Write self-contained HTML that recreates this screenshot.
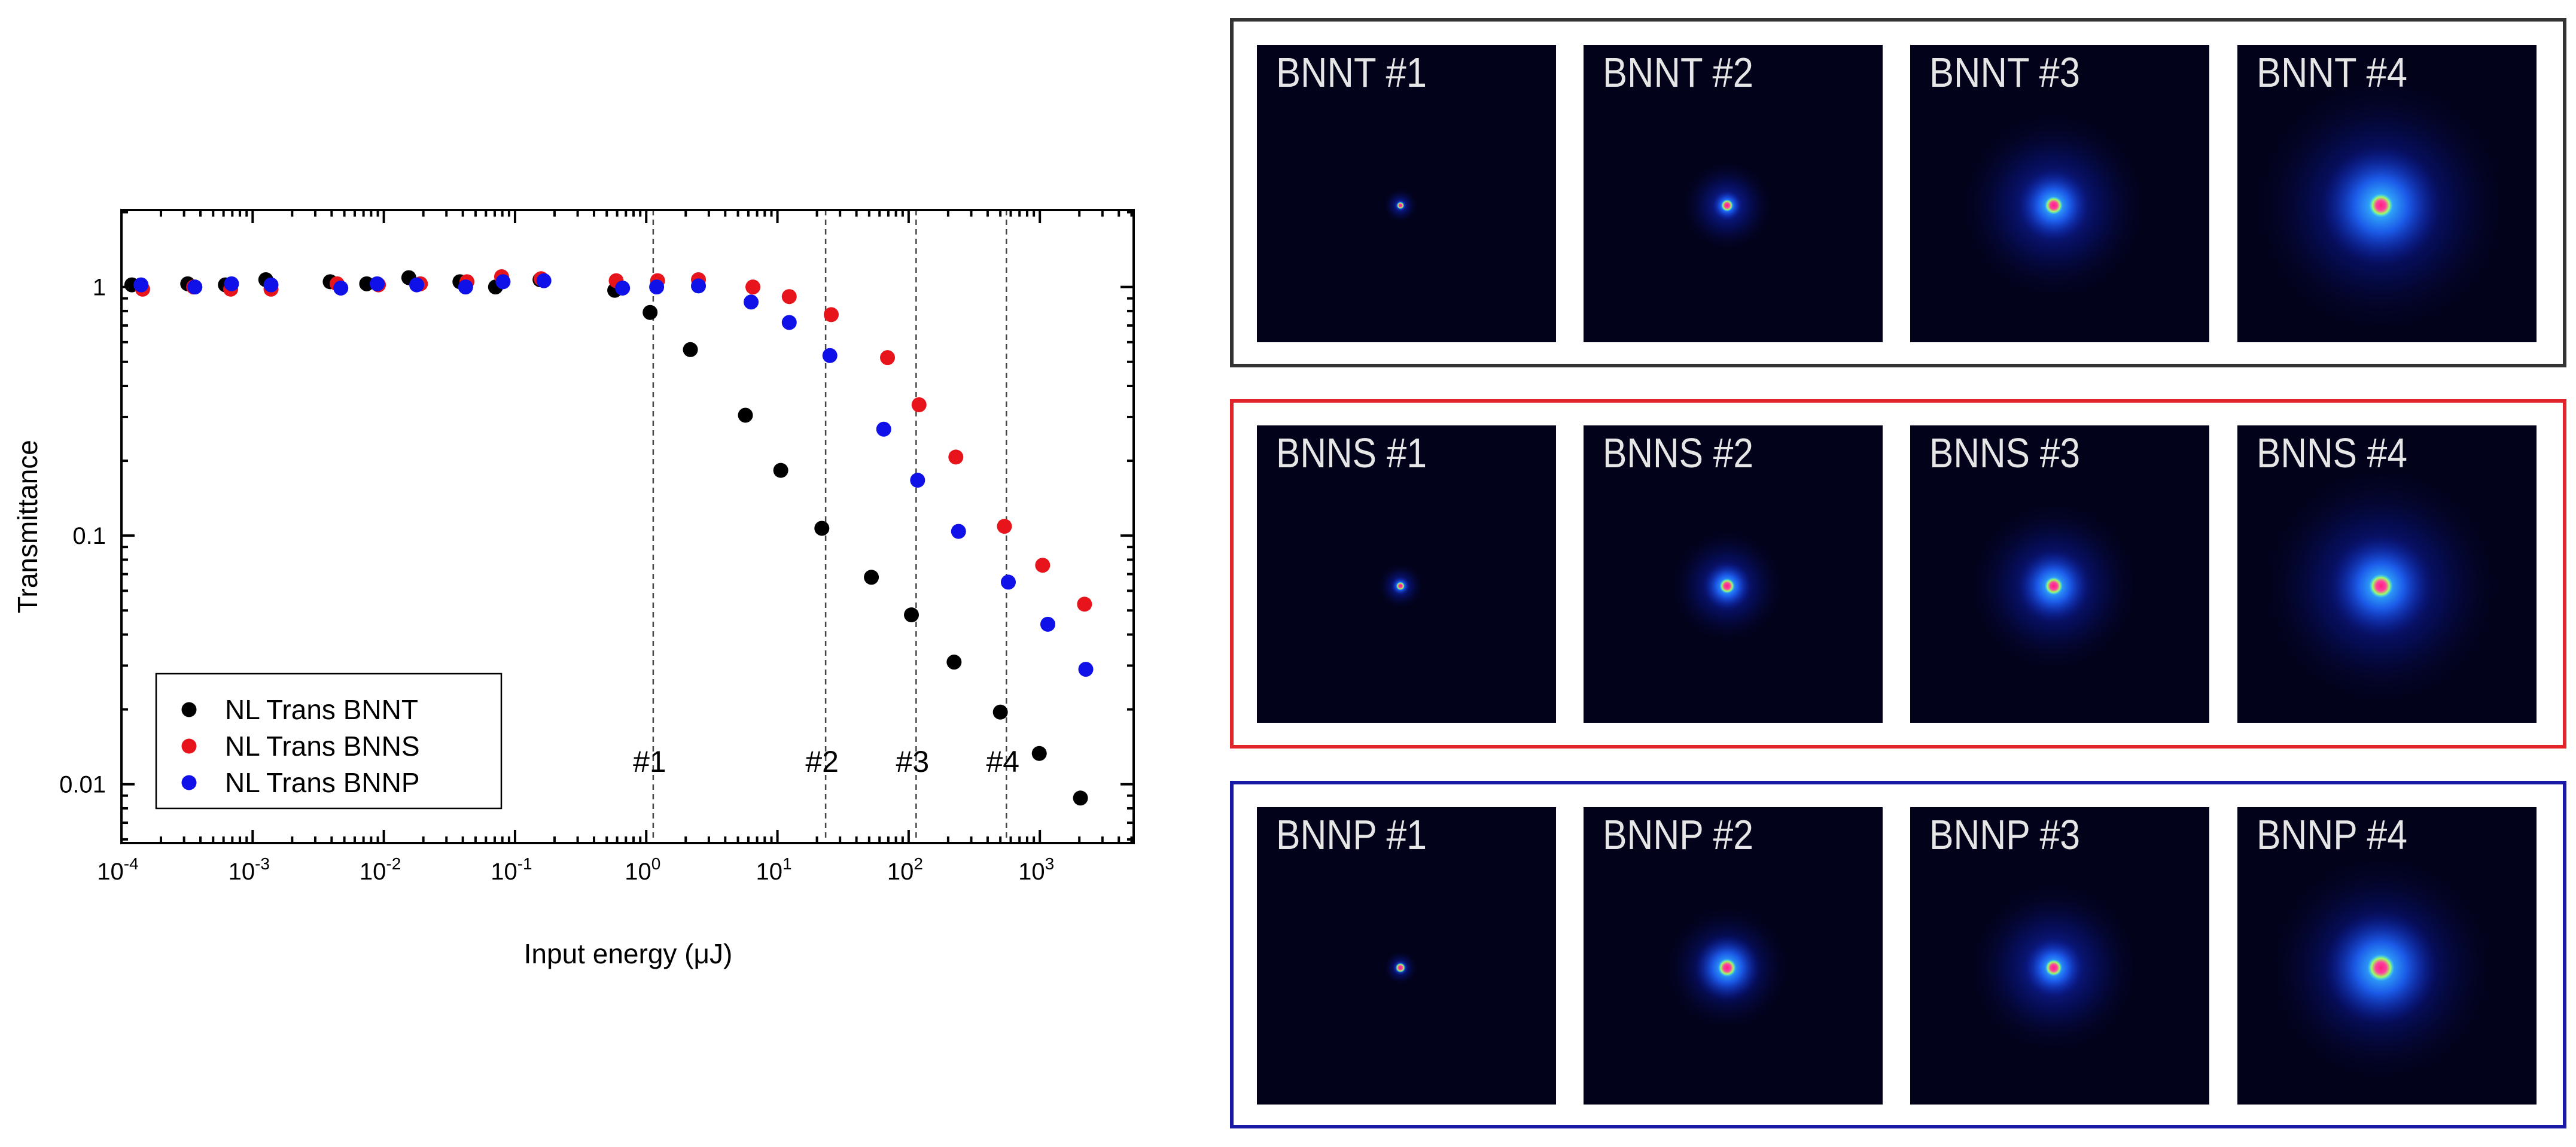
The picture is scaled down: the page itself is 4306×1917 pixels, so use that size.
<!DOCTYPE html>
<html><head><meta charset="utf-8">
<style>
html,body{margin:0;padding:0;background:#fff;}
svg{display:block;}
text{font-family:"Liberation Sans",sans-serif;}
</style></head>
<body>
<svg id="fig" width="4306" height="1917" viewBox="0 0 4306 1917" xmlns="http://www.w3.org/2000/svg">
<defs>
  <radialGradient id="glowBlue" cx="50%" cy="50%" r="50%">
    <stop offset="0" stop-color="#1a3cff" stop-opacity="0.75"/>
    <stop offset="0.5" stop-color="#0a1aa0" stop-opacity="0.4"/>
    <stop offset="1" stop-color="#02021a" stop-opacity="0"/>
  </radialGradient>
  <radialGradient id="glowCyan" cx="50%" cy="50%" r="50%">
    <stop offset="0" stop-color="#40e0ff" stop-opacity="1"/>
    <stop offset="0.45" stop-color="#1f6bff" stop-opacity="0.8"/>
    <stop offset="1" stop-color="#0a1aa0" stop-opacity="0"/>
  </radialGradient>
  <radialGradient id="glowCore" cx="50%" cy="50%" r="50%">
    <stop offset="0" stop-color="#ff2080"/>
    <stop offset="0.4" stop-color="#ff40a0"/>
    <stop offset="0.7" stop-color="#a0ff60"/>
    <stop offset="1" stop-color="#40e0ff" stop-opacity="0"/>
  </radialGradient>
</defs>
<g id="chart"></g>
<g id="panels"></g>
</svg>
<script>
// ---- chart data ----
const xLabelsExp = [-4,-3,-2,-1,0,1,2,3];
const yTickValues = [1,0.1,0.01];
const yTickLabels = ["1","0.1","0.01"];
const bnntX = [1.2e-4,3.2e-4,6.2e-4,1.26e-3,3.9e-3,7.4e-3,1.55e-2,3.8e-2,7.1e-2,0.155,0.575,1.07,2.17,5.7,10.6,21.8,52,105,222,500,990,2040];
const bnntY = [1.02,1.03,1.02,1.07,1.05,1.03,1.09,1.05,1.0,1.07,0.97,0.79,0.56,0.305,0.183,0.107,0.068,0.048,0.031,0.0195,0.0133,0.0088];
const bnnsX = [1.45e-4,3.55e-4,6.8e-4,1.38e-3,4.4e-3,9.1e-3,1.9e-2,4.3e-2,7.9e-2,0.158,0.59,1.22,2.5,6.5,12.3,25.7,69,120,229,537,1050,2190];
const bnnsY = [0.98,1.0,0.98,0.98,1.03,1.02,1.03,1.05,1.1,1.08,1.06,1.06,1.07,1.0,0.915,0.774,0.52,0.336,0.207,0.109,0.076,0.053];
const bnnpX = [1.41e-4,3.63e-4,6.9e-4,1.38e-3,4.7e-3,8.9e-3,1.78e-2,4.2e-2,8.1e-2,0.166,0.66,1.2,2.5,6.3,12.3,25.1,64.6,117,240,575,1150,2240];
const bnnpY = [1.02,1.0,1.03,1.02,0.99,1.03,1.02,1.0,1.05,1.06,0.99,1.0,1.01,0.87,0.72,0.53,0.268,0.167,0.104,0.065,0.044,0.029];
const markerX = [1.13,23.3,114,556];
const markerLabels = ["#1","#2","#3","#4"];
const seriesNames = ["NL Trans BNNT","NL Trans BNNS","NL Trans BNNP"];
const seriesColors = ["#000000","#e8141c","#1010e8"];

const NS="http://www.w3.org/2000/svg";
const L=203,R=1895,T=351,B=1409;
const xMinL=-4,xMaxL=3.715,yMaxL=Math.log10(2.04),yMinL=Math.log10(0.0058);
function sx(v){return L+(Math.log10(v)-xMinL)/(xMaxL-xMinL)*(R-L);}
function sy(v){return T+(yMaxL-Math.log10(v))/(yMaxL-yMinL)*(B-T);}
function mk(tag,attrs,parent){const e=document.createElementNS(NS,tag);for(const k in attrs)e.setAttribute(k,attrs[k]);parent.appendChild(e);return e;}
const chart=document.getElementById('chart');

markerX.forEach((v,i)=>{
  const ln=mk('line',{x1:sx(v),x2:sx(v),y1:T,y2:B,stroke:'#444','stroke-width':2.5,'stroke-dasharray':'9,7'},chart);
  
  
  const t=mk('text',{x:sx(v)-6,y:1290,'font-size':50,'text-anchor':'middle',fill:'#000'},chart);
  t.textContent=markerLabels[i];
  
  
});

const tk=mk('g',{stroke:'#000','stroke-width':4},chart);


for(let e=-4;e<=3;e++){
  for(let m=1;m<=9;m++){
    const v=m*Math.pow(10,e); if(Math.log10(v)>xMaxL) break;
    const x=sx(v), len=m===1?22:11;
    mk('line',{x1:x,x2:x,y1:B,y2:B-len},tk);
    mk('line',{x1:x,x2:x,y1:T,y2:T+len},tk);
  }
}
for(let e=-3;e<=0;e++){
  for(let m=1;m<=9;m++){
    const v=m*Math.pow(10,e); const lv=Math.log10(v);
    if(lv<yMinL||lv>yMaxL) continue;
    const y=sy(v), len=m===1?22:11;
    mk('line',{x1:L,x2:L+len,y1:y,y2:y},tk);
    mk('line',{x1:R,x2:R-len,y1:y,y2:y},tk);
  }
}
const frame=mk('rect',{x:L,y:T,width:R-L,height:B-T,fill:'none',stroke:'#000','stroke-width':4},chart);



xLabelsExp.forEach(e=>{
  const t=mk('text',{x:sx(Math.pow(10,e))-6,y:1470,'font-size':40,'text-anchor':'middle',fill:'#000'},chart);
  
  
  const a=document.createElementNS(NS,'tspan');a.textContent='10';t.appendChild(a);
  const b=document.createElementNS(NS,'tspan');b.setAttribute('dy','-17');b.setAttribute('font-size','28');b.textContent=String(e);t.appendChild(b);
});
yTickValues.forEach((v,i)=>{
  const t=mk('text',{x:L-26,y:sy(v)+14,'font-size':40,'text-anchor':'end',fill:'#000'},chart);
  t.textContent=yTickLabels[i];
  
  
});
const xt=mk('text',{x:1050,y:1610,'font-size':46,'text-anchor':'middle',fill:'#000'},chart);
xt.textContent='Input energy (μJ)';


const yt=mk('text',{x:0,y:0,'font-size':46,'text-anchor':'middle',fill:'#000',transform:'translate(62,880) rotate(-90)'},chart);
yt.textContent='Transmittance';



const allX=[bnntX,bnnsX,bnnpX], allY=[bnntY,bnnsY,bnnpY];
allX.forEach((xs,s)=>{
  const g=mk('g',{fill:seriesColors[s]},chart);
  
  
  xs.forEach((x,i)=>{
    const c=mk('circle',{cx:sx(x),cy:sy(allY[s][i]),r:12.5},g);
    
    
  });
});

const lg=mk('g',{},chart);


mk('rect',{x:261,y:1126,width:577,height:225,fill:'#fff',stroke:'#000','stroke-width':2.5},lg);
seriesNames.forEach((n,i)=>{
  const y=1186+i*61;
  const c=mk('circle',{cx:316,cy:y,r:12.5,fill:seriesColors[i]},lg);
  
  
  const t=mk('text',{x:376,y:y+16,'font-size':46,fill:'#000'},lg);
  t.textContent=n;
  
  
});

// ---- panels ----
const panels=document.getElementById('panels');
const frames=[{y:33,h:578,c:'#333333',n:'BNNT'},{y:670,h:578,c:'#e0262b',n:'BNNS'},{y:1308,h:575,c:'#1a1aa8',n:'BNNP'}];
const imgX=[2101,2647,3193,3740];
const imgY=[75,711,1349];
const IW=500,IH=497;
const spot=[[ [0.06,0.02,0.012],[0.16,0.05,0.02],[0.33,0.12,0.03],[0.45,0.2,0.04] ],
            [ [0.08,0.03,0.014],[0.2,0.08,0.025],[0.3,0.12,0.03],[0.42,0.17,0.04] ],
            [ [0.06,0.025,0.016],[0.22,0.11,0.03],[0.3,0.1,0.028],[0.4,0.19,0.045] ]];
frames.forEach((f,r)=>{
  const fr=mk('rect',{x:2059,y:f.y,width:2228,height:f.h,fill:'#fff',stroke:f.c,'stroke-width':6},panels);
  
  
  imgX.forEach((x,i)=>{
    const g=mk('g',{},panels);
    
    
    const y=imgY[r];
    mk('rect',{x:x,y:y,width:IW,height:IH,fill:'#02021a'},g);
    const cx=x+IW*0.48, cy=y+IH*0.54, s=spot[r][i];
    mk('circle',{cx:cx,cy:cy,r:IW*s[0],fill:'url(#glowBlue)'},g);
    mk('circle',{cx:cx,cy:cy,r:IW*s[1],fill:'url(#glowCyan)'},g);
    mk('circle',{cx:cx,cy:cy,r:IW*s[2],fill:'url(#glowCore)'},g);
    const t=mk('text',{x:x+32,y:y+70,'font-size':70,fill:'#e6e6e6',textLength:252,lengthAdjust:'spacingAndGlyphs'},g);
    t.textContent=f.n+' #'+(i+1);
    
    
  });
});
</script>
</body></html>
